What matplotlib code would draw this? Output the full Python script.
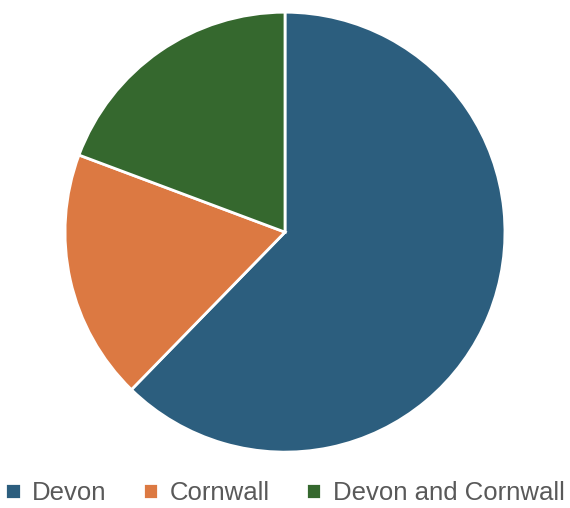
import matplotlib.pyplot as plt

labels = ['Devon', 'Cornwall', 'Devon and Cornwall']
values = [62.3, 18.4, 19.3]
colors = ['#2C5E7E', '#DC7942', '#35682E']

plt.rcParams['font.family'] = ['Liberation Sans', 'DejaVu Sans']

fig = plt.figure(figsize=(5.7, 5.08), dpi=100)
ax = fig.add_axes([0.114, 0.110, 0.772, 0.866])

wedges, _ = ax.pie(values, colors=colors, startangle=90, counterclock=False,
                   wedgeprops=dict(edgecolor='white', linewidth=2))
ax.set_xlim(-1, 1)
ax.set_ylim(-1, 1)
ax.set_aspect('equal')

leg = fig.legend(wedges, labels, loc='lower center', bbox_to_anchor=(0.5, -0.014),
                 ncol=3, frameon=False, fontsize=18.5,
                 handlelength=0.6, handleheight=0.6, handletextpad=0.45,
                 columnspacing=1.4, borderaxespad=0)
for t in leg.get_texts():
    t.set_color('#595959')

fig.savefig('out.png', dpi=100)
